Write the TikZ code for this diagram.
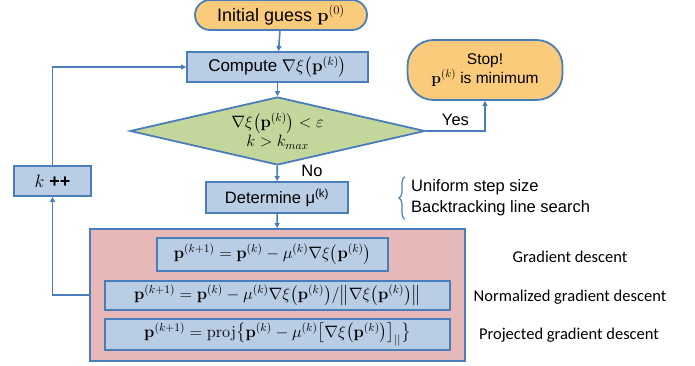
\documentclass[tikz,border=0pt]{standalone}
\usepackage{fix-cm}
\usepackage{amsmath,amssymb,bm}
\usepackage[no-math]{fontspec}
\setmainfont{Liberation Sans}
\newfontfamily\notefont{Carlito}
\usepackage{xcolor}
\usepackage{tikz}
\usetikzlibrary{arrows.meta,positioning,calc,shapes.geometric,decorations.pathreplacing}

\definecolor{lineblue}{HTML}{4A7EBB}
\definecolor{boxblue}{HTML}{B9CDE5}
\definecolor{pillgold}{HTML}{F9CB7A}
\definecolor{testgreen}{HTML}{C3D69B}
\definecolor{updatepink}{HTML}{E6B9B8}
\newcommand{\gradxi}[1]{\nabla\xi\bigl(\mathbf{p}^{(#1)}\bigr)}

\begin{document}
\begin{tikzpicture}[x=1pt,y=-1pt,>={Triangle[length=5pt,width=5pt]},
    flow/.style={draw=lineblue,line width=1.8pt},
    pill/.style={flow,fill=pillgold,rounded corners=15pt,align=center},
    stepbox/.style={flow,fill=boxblue,inner sep=0pt,font=\fontsize{16.5}{20}\selectfont},
    link/.style={->,draw=lineblue,line width=1.6pt},
    note/.style={font=\notefont\fontsize{16.5}{19}\selectfont}]
  \useasboundingbox (0,0) rectangle (695,366);

  % start and stop
  \node[pill,minimum width=172pt,minimum height=30pt,font=\fontsize{18}{22}\selectfont] (init) at (281,15)
    {Initial guess $\mathbf{p}^{(0)}$};
  \node[pill,rounded corners=26pt,minimum width=155pt,minimum height=60pt,font=\fontsize{15.5}{20}\selectfont] (stop) at (485,70)
    {Stop!\\[-1pt]$\mathbf{p}^{(k)}$ is minimum};

  % main steps
  \node[stepbox,minimum width=181pt,minimum height=30pt,font=\fontsize{17}{20}\selectfont] (grad) at (277.5,67) {Compute $\gradxi{k}$};
  \node[diamond,aspect=4.3,flow,fill=testgreen,inner sep=0pt,minimum width=295pt,minimum height=68pt,align=center,
        font=\fontsize{16.5}{20}\selectfont] (test) at (277.5,131) {$\gradxi{k}<\varepsilon$\\[-1pt]$k>k_{max}$};
  \node[stepbox,minimum width=142pt,minimum height=31pt] (mu) at (277,197.5) {Determine μ\textsuperscript{(k)}};
  \node[stepbox,minimum width=77pt,minimum height=30pt,font=\fontsize{18}{20}\selectfont] (kinc) at (52.5,181) {$k$ \textbf{++}};

  % update rules
  \node[flow,fill=updatepink,minimum width=375pt,minimum height=132pt] (update) at (277.5,295) {};
  \node[stepbox,minimum width=231pt,minimum height=33pt] (gd) at (272.5,254.5)
    {$\mathbf{p}^{(k+1)}=\mathbf{p}^{(k)}-\mu^{(k)}\gradxi{k}$};
  \node[stepbox,minimum width=345pt,minimum height=29pt] (ngd) at (277.5,295.5)
    {$\mathbf{p}^{(k+1)}=\mathbf{p}^{(k)}-\mu^{(k)}\gradxi{k}/\bigl\|\gradxi{k}\bigr\|$};
  \node[stepbox,minimum width=345pt,minimum height=31pt] (pgd) at (277.5,334.5)
    {$\mathbf{p}^{(k+1)}=\operatorname{proj}\bigl\{\mathbf{p}^{(k)}-\mu^{(k)}\bigl[\gradxi{k}\bigr]_{||}\bigr\}$};

  % side notes
  \node[note] (gdtext) at (570,257) {Gradient descent};
  \node[note] (ngdtext) at (570,297) {Normalized gradient descent};
  \node[note] (pgdtext) at (569,335) {Projected gradient descent};
  \node[anchor=west,align=left,inner sep=0pt,font=\fontsize{16.5}{21}\selectfont] (steps) at (411,198)
    {Uniform step size\\Backtracking line search};
  \draw[draw=lineblue,line width=1.2pt,decorate,decoration={brace,amplitude=6pt}]
    ([xshift=-6pt,yshift=-3pt]steps.south west) -- ([xshift=-6pt,yshift=3pt]steps.north west);

  % connectors
  \draw[link] (init) -- (grad);
  \draw[link] (grad) -- (test);
  \draw[link] (test) -- node[right=20pt,pos=0.3,font=\fontsize{16.5}{20}\selectfont] {No} (mu);
  \draw[link] (test.east) -| node[above=1pt,pos=0.25,font=\fontsize{16.5}{20}\selectfont] {Yes} (stop.south);
  \draw[link] (mu) -- (update);
  \draw[link] (update.west) -| (kinc.south);
  \draw[link] (kinc.north) |- (grad.west);
\end{tikzpicture}
\end{document}
